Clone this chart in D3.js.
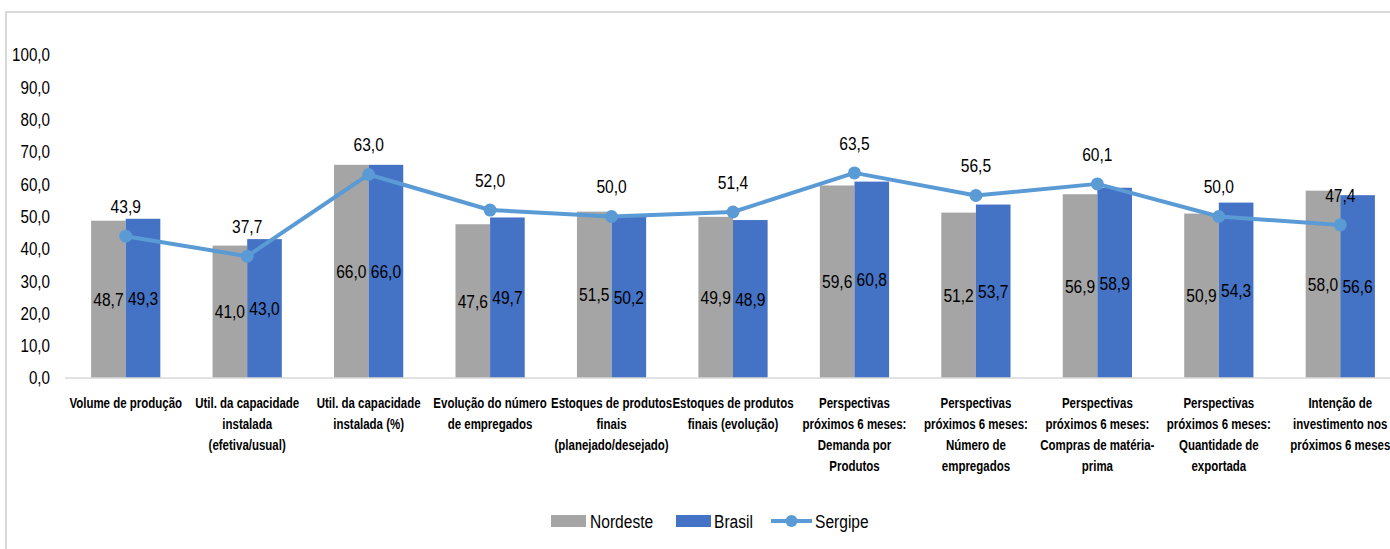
<!DOCTYPE html>
<html>
<head>
<meta charset="utf-8">
<script src="https://cdn.jsdelivr.net/npm/d3@7"></script>
<style>
  body { margin: 0; background: #fff; }
  svg { display: block; }
  text { font-family: "Liberation Sans", Arial, sans-serif; fill: #000; }
</style>
</head>
<body>
<div id="chart"></div>
<script>
// categories (split into lines as shown under the axis)
var categories = [
  ["Volume de produção"],
  ["Util. da capacidade", "instalada", "(efetiva/usual)"],
  ["Util. da capacidade", "instalada (%)"],
  ["Evolução do número", "de empregados"],
  ["Estoques de produtos", "finais", "(planejado/desejado)"],
  ["Estoques de produtos", "finais (evolução)"],
  ["Perspectivas", "próximos 6 meses:", "Demanda por", "Produtos"],
  ["Perspectivas", "próximos 6 meses:", "Número de", "empregados"],
  ["Perspectivas", "próximos 6 meses:", "Compras de matéria-", "prima"],
  ["Perspectivas", "próximos 6 meses:", "Quantidade de", "exportada"],
  ["Intenção de", "investimento nos", "próximos 6 meses"]
];
var nordeste = [48.7, 41.0, 66.0, 47.6, 51.5, 49.9, 59.6, 51.2, 56.9, 50.9, 58.0];
var brasil   = [49.3, 43.0, 66.0, 49.7, 50.2, 48.9, 60.8, 53.7, 58.9, 54.3, 56.6];
var sergipe  = [43.9, 37.7, 63.0, 52.0, 50.0, 51.4, 63.5, 56.5, 60.1, 50.0, 47.4];
var yTicks = [0, 10, 20, 30, 40, 50, 60, 70, 80, 90, 100];

var width = 1390, height = 549;
var colGray = "#a5a5a5", colBlue = "#4472c4", colLine = "#5b9bd5";
var narrow = 0.82; // squeeze text to look like a condensed face

var fmt = function(v) { return d3.format(".1f")(v).replace(".", ","); };
var at = function(px, py) { return "translate(" + px + "," + py + ") scale(" + narrow + ",1)"; };

var svg = d3.select("#chart").append("svg")
    .attr("width", width)
    .attr("height", height);

// chart frame (only top and left edges are visible)
svg.append("line").attr("x1", 5).attr("x2", width).attr("y1", 12).attr("y2", 12)
    .attr("stroke", "#d9d9d9").attr("stroke-width", 2);
svg.append("line").attr("x1", 6).attr("x2", 6).attr("y1", 12).attr("y2", height)
    .attr("stroke", "#d9d9d9").attr("stroke-width", 2);

var x = d3.scaleBand()
    .domain(d3.range(categories.length))
    .range([65, 1401])
    .paddingInner(0.43)
    .paddingOuter(0.215);

var x1 = d3.scaleBand()
    .domain([0, 1])
    .range([0, x.bandwidth()]);

var y = d3.scaleLinear().domain([0, 100]).range([378, 55]);

// y axis labels (no line, no ticks)
var yAxis = svg.append("g")
    .attr("transform", "translate(50,0)")
    .call(d3.axisLeft(y).tickValues(yTicks).tickFormat(fmt).tickSize(0).tickPadding(0));
yAxis.select(".domain").remove();
yAxis.selectAll("text")
    .attr("x", null)
    .attr("transform", "scale(" + narrow + ",1)")
    .style("font-size", "18.5px")
    .style("font-family", "'Liberation Sans', Arial, sans-serif")
    .attr("fill", "#000");

// bars
var groups = svg.append("g").selectAll("g")
    .data(d3.range(categories.length))
    .join("g")
    .attr("transform", function(i) { return "translate(" + x(i) + ",0)"; });

groups.append("rect")
    .attr("x", x1(0))
    .attr("width", x1.bandwidth())
    .attr("y", function(i) { return y(nordeste[i]); })
    .attr("height", function(i) { return y(0) - y(nordeste[i]); })
    .attr("fill", colGray);

groups.append("rect")
    .attr("x", x1(1))
    .attr("width", x1.bandwidth())
    .attr("y", function(i) { return y(brasil[i]); })
    .attr("height", function(i) { return y(0) - y(brasil[i]); })
    .attr("fill", colBlue);

// x axis line
svg.append("line")
    .attr("x1", 65).attr("x2", 1401)
    .attr("y1", y(0)).attr("y2", y(0))
    .attr("stroke", "#d9d9d9").attr("stroke-width", 1.5);

// bar value labels (centred inside the bars)
groups.append("text")
    .attr("transform", function(i) { return at(x1(0) + x1.bandwidth() / 2, (y(0) + y(nordeste[i])) / 2); })
    .attr("dy", "0.35em")
    .attr("text-anchor", "middle")
    .style("font-size", "19px")
    .text(function(i) { return fmt(nordeste[i]); });

groups.append("text")
    .attr("transform", function(i) { return at(x1(1) + x1.bandwidth() / 2, (y(0) + y(brasil[i])) / 2); })
    .attr("dy", "0.35em")
    .attr("text-anchor", "middle")
    .style("font-size", "19px")
    .text(function(i) { return fmt(brasil[i]); });

// Sergipe line
var cx = function(i) { return x(i) + x.bandwidth() / 2; };
var line = d3.line()
    .x(function(d, i) { return cx(i); })
    .y(function(d) { return y(d); });

svg.append("path")
    .datum(sergipe)
    .attr("d", line)
    .attr("fill", "none")
    .attr("stroke", colLine)
    .attr("stroke-width", 4)
    .attr("stroke-linejoin", "round");

svg.append("g").selectAll("circle")
    .data(sergipe)
    .join("circle")
    .attr("cx", function(d, i) { return cx(i); })
    .attr("cy", function(d) { return y(d); })
    .attr("r", 6.5)
    .attr("fill", colLine);

svg.append("g").selectAll("text")
    .data(sergipe)
    .join("text")
    .attr("transform", function(d, i) { return at(cx(i), y(d) - 30); })
    .attr("dy", "0.35em")
    .attr("text-anchor", "middle")
    .style("font-size", "19px")
    .text(function(d) { return fmt(d); });

// category labels
var catText = svg.append("g").selectAll("text")
    .data(categories)
    .join("text")
    .attr("text-anchor", "middle")
    .style("font-size", "14px")
    .style("font-weight", "bold")
    .attr("transform", function(d, i) { return at(cx(i), 408); });

catText.selectAll("tspan")
    .data(function(d) { return d; })
    .join("tspan")
    .attr("x", 0)
    .attr("y", function(d, j) { return j * 21; })
    .text(function(d) { return d; });

// legend
var legend = svg.append("g").attr("transform", "translate(0,521)");
legend.append("rect").attr("x", 551).attr("y", -6).attr("width", 35).attr("height", 12).attr("fill", colGray);
legend.append("text").attr("transform", at(590, 0)).attr("dy", "0.35em").style("font-size", "19px").text("Nordeste");
legend.append("rect").attr("x", 676).attr("y", -6).attr("width", 35).attr("height", 12).attr("fill", colBlue);
legend.append("text").attr("transform", at(714, 0)).attr("dy", "0.35em").style("font-size", "19px").text("Brasil");
legend.append("line").attr("x1", 771).attr("x2", 812).attr("stroke", colLine).attr("stroke-width", 4);
legend.append("circle").attr("cx", 791.5).attr("r", 6).attr("fill", colLine);
legend.append("text").attr("transform", at(815, 0)).attr("dy", "0.35em").style("font-size", "19px").text("Sergipe");
</script>
</body>
</html>
